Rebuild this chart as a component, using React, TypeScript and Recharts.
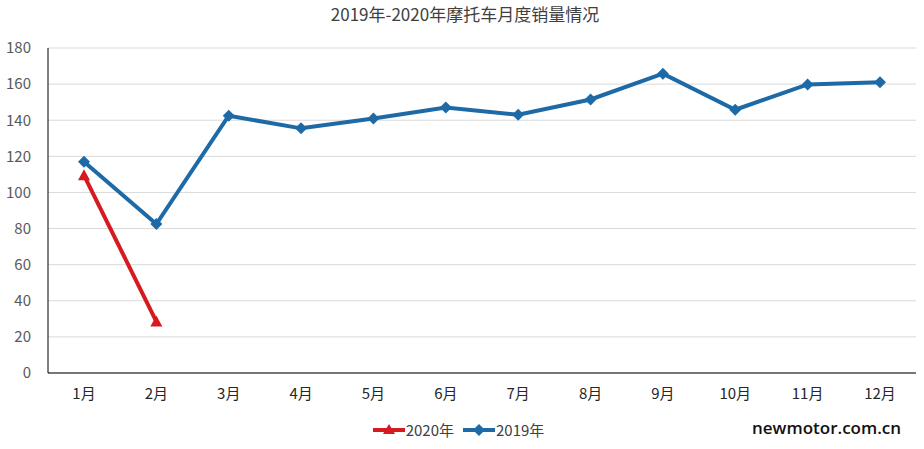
import React from 'react';
import { LineChart, Line, XAxis, YAxis, CartesianGrid, Legend } from 'recharts';

const months = ['1月', '2月', '3月', '4月', '5月', '6月', '7月', '8月', '9月', '10月', '11月', '12月'];
const sales2019 = [117, 82.5, 142.5, 135.5, 141, 147, 143, 151.5, 165.8, 145.8, 159.8, 161];
const sales2020: (number | null)[] = [109.5, 28.5];
const yTicks = [0, 20, 40, 60, 80, 100, 120, 140, 160, 180];

const BLUE = '#1d6aa6';
const RED = '#d61a1f';
const FONT = '"Noto Sans CJK SC", "Open Sans", sans-serif';

const data = months.map((m, i) => ({
    month: m,
    y2019: sales2019[i],
    y2020: i < sales2020.length ? sales2020[i] : null,
}));

const Diamond = (props: any) => {
    const { cx, cy } = props;
    if (cx == null || cy == null) return null;
    const r = 6;
    return <path key={`d-${cx}`} d={`M${cx},${cy - r}L${cx + r},${cy}L${cx},${cy + r}L${cx - r},${cy}Z`} fill={BLUE} />;
};

const Triangle = (props: any) => {
    const { cx, cy, value } = props;
    if (cx == null || cy == null || value == null) return null;
    const r = 6;
    return <path key={`t-${cx}`} d={`M${cx},${cy - r}L${cx + r},${cy + r - 1}L${cx - r},${cy + r - 1}Z`} fill={RED} />;
};

const LegendContent = () => (
    <div style={{ display: 'flex', justifyContent: 'center', alignItems: 'center', fontFamily: FONT, fontSize: 15, color: '#404040' }}>
        <svg width={34} height={12}>
            <line x1={1} y1={6} x2={33} y2={6} stroke={RED} strokeWidth={4} />
            <path d="M17,0L23,10L11,10Z" fill={RED} />
        </svg>
        <span style={{ marginRight: 8 }}>2020年</span>
        <svg width={34} height={12}>
            <line x1={1} y1={6} x2={33} y2={6} stroke={BLUE} strokeWidth={4} />
            <path d="M17,0L23,6L17,12L11,6Z" fill={BLUE} />
        </svg>
        <span>2019年</span>
    </div>
);

export default function App() {
    return (
        <div style={{ position: 'absolute', left: 0, top: 0, width: 924, height: 449, background: '#fff', fontFamily: FONT }}>
            <div style={{ position: 'absolute', top: 1, left: 0, width: 930, textAlign: 'center', fontSize: 17, color: '#404040' }}>
                2019年-2020年摩托车月度销量情况
            </div>
            <LineChart width={924} height={449} data={data} margin={{ top: 48, right: 8, left: 0, bottom: 0 }}>
                <CartesianGrid vertical={false} stroke="#d9d9d9" />
                <XAxis
                    dataKey="month"
                    padding={{ left: 36, right: 36 }}
                    axisLine={{ stroke: '#000' }}
                    tickLine={false}
                    tickSize={0}
                    tickMargin={15}
                    tick={{ fontSize: 15, fill: '#262626', fontFamily: FONT }}
                    height={46}
                />
                <YAxis
                    width={48}
                    domain={[0, 180]}
                    ticks={yTicks}
                    axisLine={{ stroke: '#000' }}
                    tickLine={false}
                    tickSize={0}
                    tickMargin={17}
                    tick={{ fontSize: 15, fill: '#595959', fontFamily: FONT }}
                />
                <Legend verticalAlign="bottom" height={30} content={<LegendContent />} />
                <Line dataKey="y2019" stroke={BLUE} strokeWidth={4} dot={<Diamond />} activeDot={false} isAnimationActive={false} />
                <Line dataKey="y2020" stroke={RED} strokeWidth={4} dot={<Triangle />} activeDot={false} isAnimationActive={false} />
            </LineChart>
            <div style={{ position: 'absolute', left: 752, top: 416, fontSize: 17, fontWeight: 600, color: '#111', fontFamily: '"Open Sans", sans-serif' }}>
                newmotor.com.cn
            </div>
        </div>
    );
}
